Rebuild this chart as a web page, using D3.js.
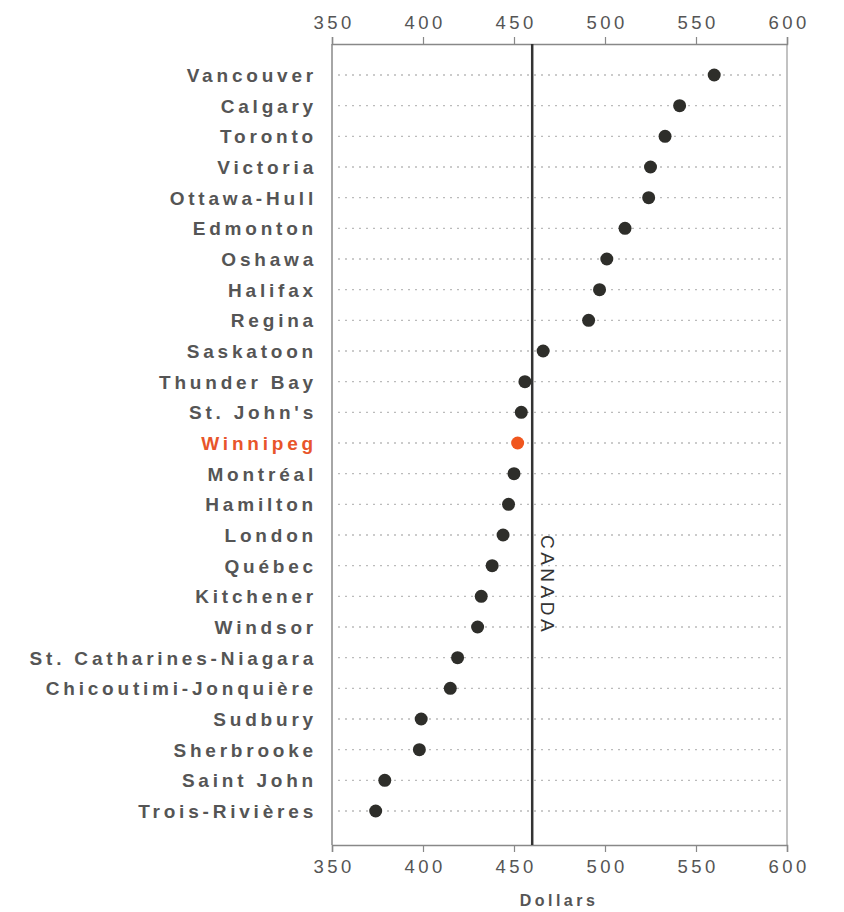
<!DOCTYPE html>
<html><head><meta charset="utf-8">
<script src="https://cdn.jsdelivr.net/npm/d3@7"></script>
<style>
body{margin:0;background:#fff;}
svg{display:block;}
text{font-family:"Liberation Sans",Arial,sans-serif;}
</style></head>
<body>
<svg id="chart" width="844" height="912"></svg>
<script>
const cities = ["Vancouver","Calgary","Toronto","Victoria","Ottawa-Hull","Edmonton","Oshawa","Halifax","Regina","Saskatoon","Thunder Bay","St. John's","Winnipeg","Montréal","Hamilton","London","Québec","Kitchener","Windsor","St. Catharines-Niagara","Chicoutimi-Jonquière","Sudbury","Sherbrooke","Saint John","Trois-Rivières"];
const values = [560,541,533,525,524,511,501,497,491,466,456,454,452,450,447,444,438,432,430,419,415,399,398,379,374];
const highlight = "Winnipeg";
const canadaValue = 460;
const xTicks = [350,400,450,500,550,600];

(function(){
const svg = d3.select("#chart");
const pL = 332, pR = 787, pT = 44, pB = 845;
const x = d3.scaleLinear().domain([350,600]).range([pL,pR]);
const y = d3.scalePoint().domain(cities).range([75,811]);

svg.append("line").attr("x1",pL).attr("x2",pL).attr("y1",pT).attr("y2",pB).attr("stroke","#888").attr("stroke-width",1.5);
svg.append("line").attr("x1",pR).attr("x2",pR).attr("y1",pT).attr("y2",pB).attr("stroke","#999").attr("stroke-width",1.2);

svg.append("g").selectAll("line").data(cities).join("line")
  .attr("x1",pL+6).attr("x2",pR-6)
  .attr("y1",d=>y(d)).attr("y2",d=>y(d))
  .attr("stroke","#bbb").attr("stroke-width",1.3).attr("stroke-dasharray","2,5");

const axTop = svg.append("g").attr("transform",`translate(0,${pT})`)
  .call(d3.axisTop(x).tickValues(xTicks).tickSize(7).tickPadding(8));
const axBot = svg.append("g").attr("transform",`translate(0,${pB})`)
  .call(d3.axisBottom(x).tickValues(xTicks).tickSize(7).tickPadding(8));
[axTop,axBot].forEach(a=>{
  a.select(".domain").attr("stroke","#888").attr("stroke-width",1.5);
  a.selectAll(".tick line").attr("stroke","#888").attr("stroke-width",1.2);
  a.selectAll(".tick text").attr("fill","#555").attr("font-size",18.5).attr("letter-spacing",3.5)
   .attr("dx",1.7)
   .attr("font-family","'Liberation Sans',Arial,sans-serif");
});

svg.append("line").attr("x1",x(canadaValue)).attr("x2",x(canadaValue))
  .attr("y1",pT).attr("y2",pB).attr("stroke","#333").attr("stroke-width",2.5);
svg.append("text").attr("transform",`translate(${x(canadaValue)+9},${585}) rotate(90)`)
  .attr("text-anchor","middle").attr("font-size",19).attr("letter-spacing",3.5)
  .attr("fill","#333").text("CANADA");

svg.append("g").selectAll("text").data(cities).join("text")
  .attr("x",317).attr("y",d=>y(d)).attr("dy","0.36em")
  .attr("text-anchor","end").attr("font-size",19).attr("font-weight","bold").attr("letter-spacing",3.8)
  .attr("fill",d=>d===highlight?"#e8552a":"#555").text(d=>d);

svg.append("g").selectAll("circle").data(cities).join("circle")
  .attr("cx",(d,i)=>x(values[i])).attr("cy",d=>y(d)).attr("r",6.5)
  .attr("fill",d=>d===highlight?"#f0561e":"#2e2e2a");

svg.append("text").attr("x",559).attr("y",906).attr("text-anchor","middle")
  .attr("font-size",16).attr("font-weight","bold").attr("letter-spacing",3.5).attr("fill","#555").text("Dollars");
})();
</script>
</body></html>
